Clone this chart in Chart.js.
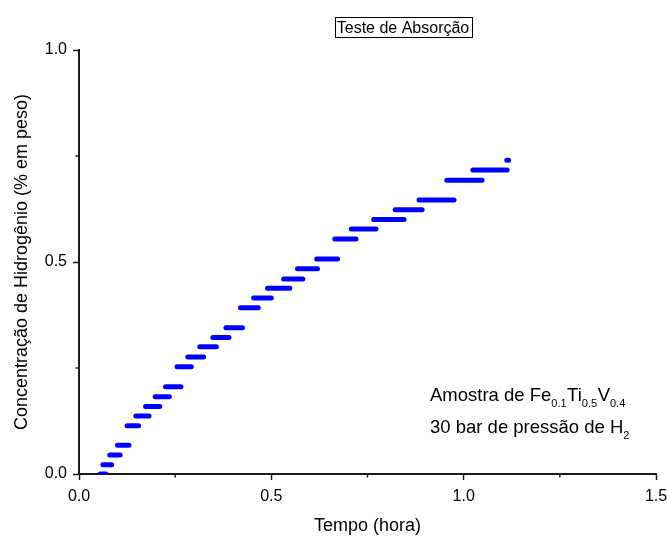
<!DOCTYPE html>
<html>
<head>
<meta charset="utf-8">
<script src="https://cdn.jsdelivr.net/npm/chart.js@4/dist/chart.umd.min.js"></script>
<style>
  html, body { margin:0; padding:0; background:#fff; }
  #wrap { width:667px; height:537px; }
</style>
</head>
<body>
<div id="wrap"><canvas id="chartAbs" width="667" height="537"></canvas></div>
<script>
// each plateau of the absorption run: start time, end time, concentration
const timeStart = [0.055,0.062,0.080,0.100,0.125,0.148,0.173,0.198,0.225,0.255,0.283,0.314,0.348,0.382,0.420,0.454,0.490,0.532,0.568,0.618,0.665,0.708,0.766,0.822,0.884,0.956,1.024,1.112];
const timeEnd   = [0.070,0.085,0.107,0.130,0.155,0.182,0.210,0.235,0.265,0.292,0.324,0.357,0.390,0.425,0.466,0.500,0.548,0.582,0.620,0.672,0.720,0.772,0.845,0.892,0.975,1.048,1.113,1.117];
const concLevel = [0.000,0.022,0.045,0.068,0.114,0.137,0.159,0.182,0.206,0.253,0.276,0.300,0.322,0.345,0.392,0.415,0.438,0.460,0.484,0.507,0.554,0.578,0.600,0.623,0.646,0.693,0.717,0.740];

const xMajor = [0, 0.5, 1.0, 1.5];
const yMajor = [0, 0.5, 1.0];

const FONT = "'Liberation Sans', Arial, sans-serif";
const BLUE = "#0000FF";
const AXIS = "#1a1a1a";

const pts = [];
timeStart.forEach((t,i)=>{
  pts.push({x:t, y:concLevel[i]});
  pts.push({x:timeEnd[i], y:concLevel[i]});
  pts.push({x:timeEnd[i], y:null});
});

const isMajor = (v, list) => list.some(m => Math.abs(m - v) < 1e-9);

// short minor ticks (major ones come from the scales themselves)
const minorTicks = {
  id:"minorTicks",
  afterDraw(chart){
    const {ctx, scales:{x, y}} = chart;
    ctx.save();
    ctx.strokeStyle = AXIS;
    ctx.lineWidth = 1.5;
    x.ticks.forEach(t=>{
      if(isMajor(t.value, xMajor)) return;
      const px = x.getPixelForValue(t.value);
      ctx.beginPath(); ctx.moveTo(px, x.top); ctx.lineTo(px, x.top+3.5); ctx.stroke();
    });
    y.ticks.forEach(t=>{
      if(isMajor(t.value, yMajor)) return;
      const py = y.getPixelForValue(t.value);
      ctx.beginPath(); ctx.moveTo(y.right, py); ctx.lineTo(y.right-3.5, py); ctx.stroke();
    });
    ctx.restore();
  }
};

// text runs with subscripts
function drawRich(ctx, parts, x, yBase){
  let cx = x;
  parts.forEach(([txt, sub])=>{
    ctx.font = sub ? `11px ${FONT}` : `18.5px ${FONT}`;
    ctx.fillText(txt, cx, sub ? yBase + 6 : yBase);
    cx += ctx.measureText(txt).width + (sub ? 0.5 : 0);
  });
}

// boxed title + sample note
const labels = {
  id:"labels",
  afterDraw(chart){
    const ctx = chart.ctx;
    ctx.save();
    ctx.fillStyle = "#000";
    ctx.textBaseline = "alphabetic";
    ctx.textAlign = "left";

    ctx.font = `16px ${FONT}`;
    const title = "Teste de Absorção";
    const w = ctx.measureText(title).width;
    const cx = 403;
    ctx.fillText(title, cx - w/2, 33);
    ctx.strokeStyle = "#000";
    ctx.lineWidth = 1;
    ctx.strokeRect(Math.round(cx - w/2 - 2) + 0.5, 17.5, Math.round(w + 4), 20);

    drawRich(ctx, [["Amostra de Fe"],["0.1",1],["Ti"],["0.5",1],["V"],["0.4",1]], 430, 401);
    drawRich(ctx, [["30 bar de pressão de H"],["2",1]], 430, 433);
    ctx.restore();
  }
};

new Chart(document.getElementById("chartAbs"), {
  type:"line",
  data:{ datasets:[{
    data: pts,
    borderColor: BLUE,
    borderWidth: 5,
    borderCapStyle: "round",
    pointRadius: 0,
    spanGaps: false,
    tension: 0
  }]},
  options:{
    responsive:false,
    animation:false,
    events:[],
    layout:{ padding:{ top:50, right:11, left:0, bottom:0 } },
    plugins:{ legend:{ display:false }, tooltip:{ enabled:false } },
    scales:{
      x:{
        type:"linear", min:0, max:1.5,
        afterFit: s => { s.height = 63; s.paddingLeft = 0; s.paddingRight = 0; },
        border:{ display:true, color:AXIS, width:2 },
        grid:{ display:true, drawOnChartArea:false, tickLength:6, tickWidth:1.5,
          tickColor: c => isMajor(c.tick.value, xMajor) ? AXIS : "rgba(0,0,0,0)" },
        ticks:{ stepSize:0.25, autoSkip:false, maxRotation:0, padding:7, color:"#000",
          font:{ family:FONT, size:16 },
          callback: v => isMajor(v, xMajor) ? v.toFixed(1) : "" },
        title:{ display:true, text:"Tempo (hora)", color:"#000",
          font:{ family:FONT, size:18 }, padding:{ top:0, bottom:0 } }
      },
      y:{
        type:"linear", min:0, max:1.0,
        afterFit: s => { s.width = 79; s.paddingTop = 0; s.paddingBottom = 0; },
        border:{ display:true, color:AXIS, width:2 },
        grid:{ display:true, drawOnChartArea:false, tickLength:6, tickWidth:1.5,
          tickColor: c => isMajor(c.tick.value, yMajor) ? AXIS : "rgba(0,0,0,0)" },
        ticks:{ stepSize:0.25, autoSkip:false, padding:6, color:"#000",
          font:{ family:FONT, size:16 },
          callback: v => isMajor(v, yMajor) ? v.toFixed(1) : "" },
        title:{ display:true, text:"Concentração de Hidrogênio (% em peso)", color:"#000",
          font:{ family:FONT, size:18 }, padding:{ top:11, bottom:0 } }
      }
    }
  },
  plugins:[minorTicks, labels]
});
</script>
</body>
</html>
